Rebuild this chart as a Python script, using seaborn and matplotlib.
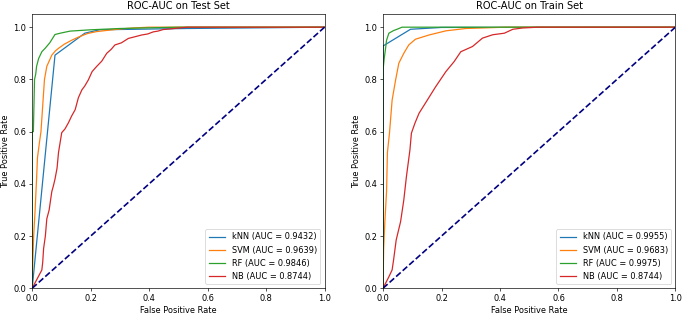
import pandas as pd
import matplotlib
matplotlib.use("Agg")
import matplotlib.pyplot as plt
import seaborn as sns

# model names and AUC values shown in the legends
models = ["kNN", "SVM", "RF", "NB"]
auc_test = [0.9432, 0.9639, 0.9846, 0.8744]
auc_train = [0.9955, 0.9683, 0.9975, 0.8744]

# ROC points
knn_test_fpr = [0, 0.078, 0.18, 0.23, 0.53, 1.0]
knn_test_tpr = [0, 0.893, 0.977, 0.99, 0.995, 1.0]
svm_test_fpr = [0, 0.002, 0.005, 0.01, 0.015, 0.018, 0.025, 0.03, 0.036, 0.042, 0.05, 0.058,
                0.067, 0.08, 0.09, 0.11, 0.135, 0.16, 0.19, 0.22, 0.266, 0.3, 0.345, 0.4, 1.0]
svm_test_tpr = [0, 0.1, 0.2, 0.3, 0.42, 0.5, 0.56, 0.6, 0.7, 0.8, 0.85, 0.87,
                0.893, 0.91, 0.919, 0.935, 0.95, 0.963, 0.976, 0.983, 0.989, 0.993, 0.997, 1.0, 1.0]
rf_test_fpr = [0, 0, 0.004, 0.006, 0.008, 0.012, 0.015, 0.022, 0.033, 0.045, 0.06, 0.078,
               0.1, 0.13, 0.2, 0.3, 0.5, 1.0]
rf_test_tpr = [0, 0.6, 0.6, 0.7, 0.8, 0.82, 0.85, 0.88, 0.906, 0.92, 0.94, 0.972,
               0.978, 0.985, 0.99, 0.995, 1.0, 1.0]
nb_test_fpr = [0, 0.033, 0.036, 0.039, 0.045, 0.05, 0.058, 0.067, 0.072, 0.078, 0.085, 0.09,
               0.101, 0.112, 0.124, 0.135, 0.147, 0.158, 0.17, 0.18, 0.192, 0.205, 0.22, 0.238,
               0.255, 0.27, 0.283, 0.305, 0.329, 0.35, 0.374, 0.395, 0.414, 0.43, 0.448, 0.47,
               0.494, 0.53, 1.0]
nb_test_tpr = [0, 0.07, 0.1, 0.152, 0.2, 0.266, 0.3, 0.37, 0.39, 0.418, 0.46, 0.52,
               0.596, 0.61, 0.634, 0.66, 0.684, 0.73, 0.76, 0.775, 0.798, 0.83, 0.849, 0.87,
               0.9, 0.915, 0.932, 0.94, 0.957, 0.963, 0.97, 0.974, 0.982, 0.985, 0.991, 0.993,
               0.996, 1.0, 1.0]

# ROC points
knn_train_fpr = [0, 0, 0.094, 0.2, 1.0]
knn_train_tpr = [0, 0.928, 0.992, 0.999, 1.0]
svm_train_fpr = [0, 0.002, 0.006, 0.012, 0.015, 0.022, 0.031, 0.043, 0.054, 0.071, 0.088,
                 0.111, 0.157, 0.215, 0.283, 0.364, 0.42, 1.0]
svm_train_tpr = [0, 0.15, 0.25, 0.37, 0.52, 0.594, 0.72, 0.798, 0.862, 0.90, 0.932,
                 0.954, 0.97, 0.986, 0.995, 0.998, 1.0, 1.0]
rf_train_fpr = [0, 0, 0, 0.004, 0.008, 0.012, 0.02, 0.036, 0.05, 0.065, 1.0]
rf_train_tpr = [0, 0.753, 0.836, 0.88, 0.913, 0.95, 0.977, 0.987, 0.993, 1.0, 1.0]
nb_train_fpr = [0, 0.02, 0.031, 0.036, 0.045, 0.06, 0.071, 0.08, 0.092, 0.097, 0.109, 0.123,
                0.151, 0.18, 0.215, 0.243, 0.266, 0.306, 0.34, 0.375, 0.415, 0.444, 0.478, 0.53, 1.0]
nb_train_tpr = [0, 0.044, 0.07, 0.108, 0.185, 0.255, 0.338, 0.428, 0.53, 0.594, 0.632, 0.67,
                0.72, 0.772, 0.83, 0.868, 0.906, 0.926, 0.958, 0.971, 0.977, 0.992, 0.997, 1.0, 1.0]

test_curves = [(knn_test_fpr, knn_test_tpr), (svm_test_fpr, svm_test_tpr),
               (rf_test_fpr, rf_test_tpr), (nb_test_fpr, nb_test_tpr)]
train_curves = [(knn_train_fpr, knn_train_tpr), (svm_train_fpr, svm_train_tpr),
                (rf_train_fpr, rf_train_tpr), (nb_train_fpr, nb_train_tpr)]


def make_df(curves, aucs):
    rows = []
    for name, auc, (fpr, tpr) in zip(models, aucs, curves):
        label = f"{name} (AUC = {auc:.4f})"
        for x, y in zip(fpr, tpr):
            rows.append({"fpr": x, "tpr": y, "model": label})
    return pd.DataFrame(rows)


palette = sns.color_palette("tab10", 4)

W = 11.5
DPI = 685 / W
fig, axes = plt.subplots(1, 2, figsize=(W, 314 / DPI), dpi=DPI)

for ax, curves, aucs, title in zip(axes, [test_curves, train_curves], [auc_test, auc_train],
                                   ["ROC-AUC on Test Set", "ROC-AUC on Train Set"]):
    df = make_df(curves, aucs)
    sns.lineplot(data=df, x="fpr", y="tpr", hue="model", palette=palette,
                 sort=False, estimator=None, units="model", ax=ax, linewidth=1.5)
    ax.plot([0, 1], [0, 1], color="navy", lw=2, linestyle="--")
    ax.set_xlim(0, 1)
    ax.set_ylim(0, 1.05)
    ax.set_title(title)
    ax.set_xlabel("False Positive Rate")
    ax.set_ylabel("True Positive Rate")
    ax.legend(loc="lower right")

plt.subplots_adjust(left=0.047, right=0.986, top=0.955, bottom=0.082, wspace=0.2)
plt.savefig("out.png")
